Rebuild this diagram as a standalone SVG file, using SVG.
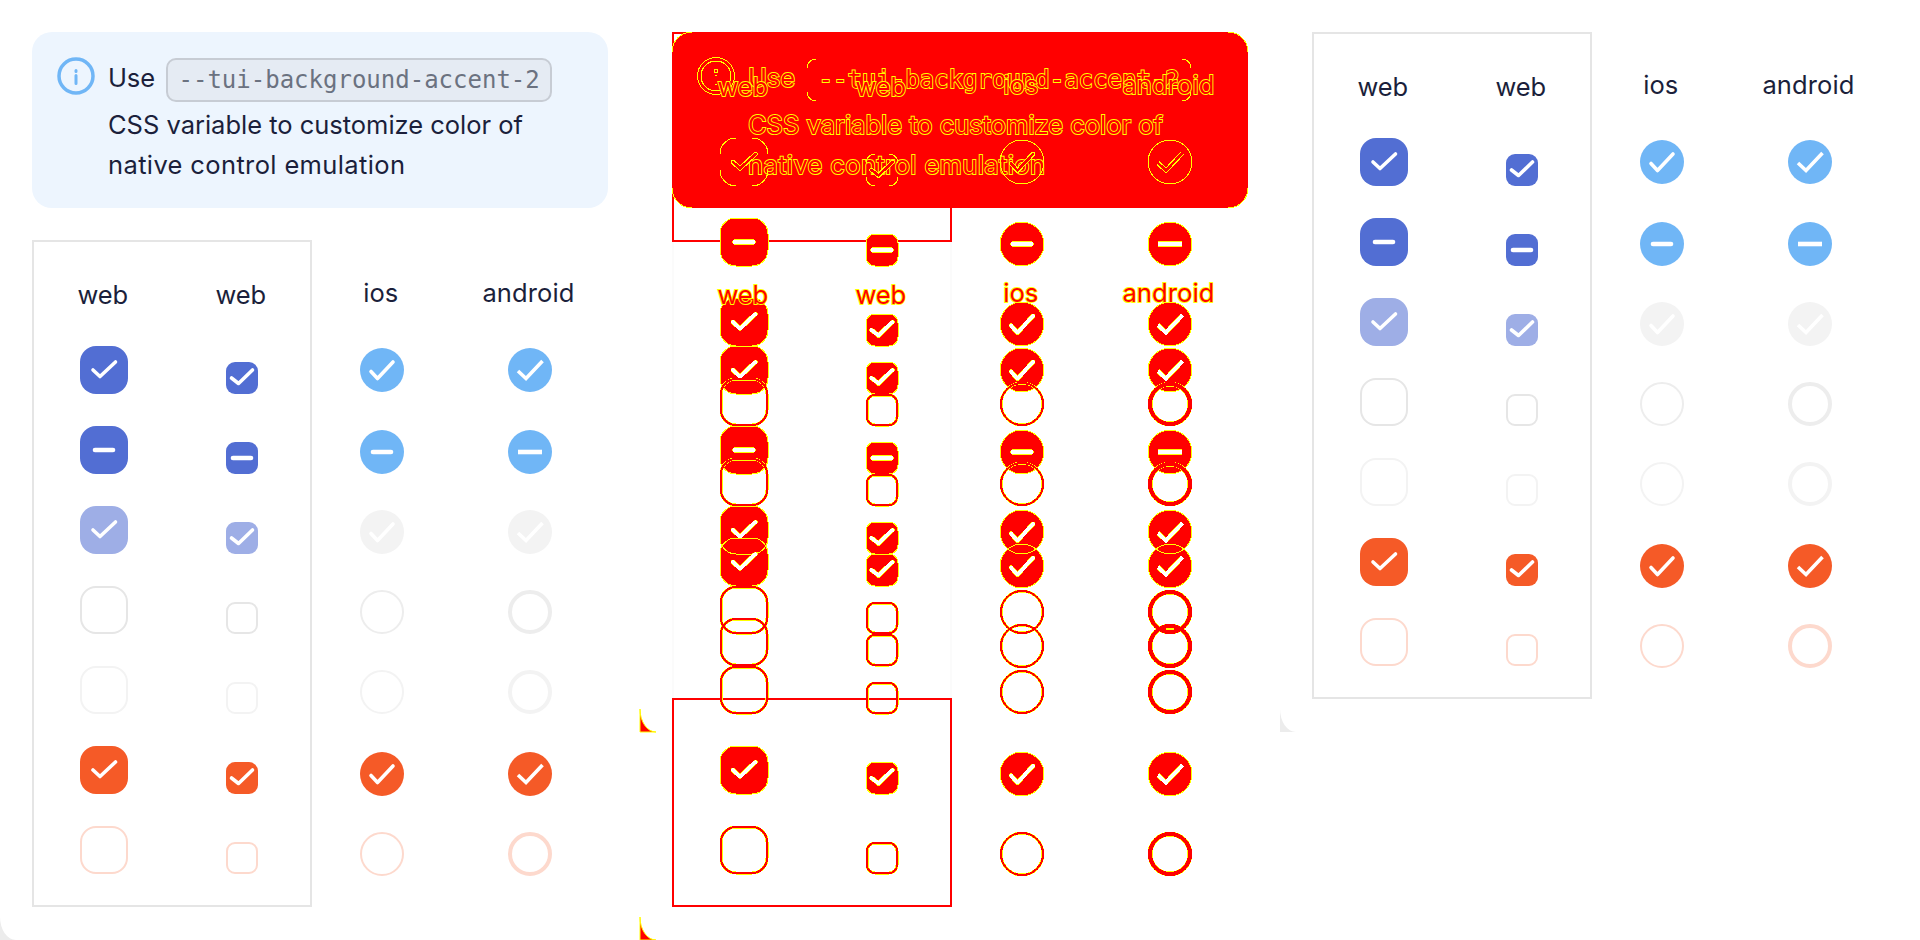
<svg xmlns="http://www.w3.org/2000/svg" width="1920" height="940" viewBox="0 0 1920 940">
<style>
text{font-family:"Inter","Noto Sans","Liberation Sans",sans-serif;font-size:25.5px;fill:#1b1f3b}
.mono{font-family:"DejaVu Sans Mono","Liberation Mono",monospace;font-size:24px;fill:#6b7280}
.dt{fill:#f00;stroke:#ff0;stroke-width:1.8px;paint-order:stroke}
.pri,.pal,.blu,.gry,.org{stroke:var(--e,none);stroke-width:1px}
.pri{fill:var(--f,#526ed3)}.pal{fill:var(--f,#9eaee6)}.blu{fill:var(--f,#70b6f6)}.gry{fill:var(--f,#f3f3f3)}.org{fill:var(--f,#f55a27)}
.rg,.ri,.rl,.ro{fill:none}
.rg{stroke:var(--r,#e6e6e6)}.ri{stroke:var(--r,#ededed)}.rl{stroke:var(--r,#f3f3f3)}.ro{stroke:var(--r,#fdd9cd)}
.r2{stroke-width:calc(2px + var(--x,0px))}.r4{stroke-width:calc(4px + var(--x,0px))}
.ck{fill:none;stroke:var(--c,#fff);stroke-width:calc(3.6px + var(--x,0px));stroke-linecap:round;stroke-linejoin:round}
.ck.b{stroke-linecap:butt;stroke-linejoin:miter}
.dsh{stroke-width:calc(4.6px + var(--x,0px))}
.box{fill:none;stroke:#e5e5e5;stroke-width:2}
.p0{--f:#f00;--e:none;--r:none;--c:none}
.p1{--f:none;--e:#ff0;--r:#ff0;--c:#ff0;--x:1px}
.p2{--f:none;--e:none;--r:#f00;--c:#fff;--x:0px}
.yl{fill:none;stroke:#ff0;stroke-width:1}
</style>
<defs>
<rect id="L" width="48" height="48" rx="16"/>
<rect id="S" width="32" height="32" rx="9"/>
<circle id="C" r="22"/>
<rect id="Lr" x="1" y="1" width="46" height="46" rx="15"/>
<rect id="Sr" x="1" y="1" width="30" height="30" rx="8"/>
<circle id="Cr" r="21"/>
<circle id="Ar" r="20"/>
<path id="cL" d="M-11 0L-4 6.5L11.5-8"/>
<path id="cS" d="M-10.5 0L-3.5 5.5L10.5-8"/>
<path id="cI" d="M-11 1.5L-4.5 8.5L11-8"/>
<path id="cA" d="M-12 1L-4 8.5L12.5-9"/>
<path id="dL" d="M-9 0H9"/>
<path id="dA" d="M-12 0H12"/>
<g id="row1">
<use href="#L" x="80" y="346" class="pri"/><use href="#cL" x="104" y="370" class="ck"/>
<use href="#S" x="226" y="362" class="pri"/><use href="#cS" x="242" y="378" class="ck"/>
<use href="#C" x="382" y="370" class="blu"/><use href="#cI" x="382" y="370" class="ck"/>
<use href="#C" x="530" y="370" class="blu"/><use href="#cA" x="530" y="370" class="ck b"/>
</g>
<g id="rows">
<use href="#L" x="80" y="426" class="pri"/><use href="#dL" x="104" y="450" class="ck dsh"/>
<use href="#S" x="226" y="442" class="pri"/><use href="#dL" x="242" y="458" class="ck dsh"/>
<use href="#C" x="382" y="452" class="blu"/><use href="#dL" x="382" y="452" class="ck dsh"/>
<use href="#C" x="530" y="452" class="blu"/><use href="#dA" x="530" y="452" class="ck b dsh"/>
<use href="#L" x="80" y="506" class="pal"/><use href="#cL" x="104" y="530" class="ck"/>
<use href="#S" x="226" y="522" class="pal"/><use href="#cS" x="242" y="538" class="ck"/>
<use href="#C" x="382" y="532" class="gry"/><use href="#cI" x="382" y="532" class="ck"/>
<use href="#C" x="530" y="532" class="gry"/><use href="#cA" x="530" y="532" class="ck b"/>
<use href="#Lr" x="80" y="586" class="rg r2"/>
<use href="#Sr" x="226" y="602" class="rg r2"/>
<use href="#Cr" x="382" y="612" class="ri r2"/>
<use href="#Ar" x="530" y="612" class="ri r4"/>
<use href="#Lr" x="80" y="666" class="rl r2"/>
<use href="#Sr" x="226" y="682" class="rl r2"/>
<use href="#Cr" x="382" y="692" class="rl r2"/>
<use href="#Ar" x="530" y="692" class="rl r4"/>
<use href="#L" x="80" y="746" class="org"/><use href="#cL" x="104" y="770" class="ck"/>
<use href="#S" x="226" y="762" class="org"/><use href="#cS" x="242" y="778" class="ck"/>
<use href="#C" x="382" y="774" class="org"/><use href="#cI" x="382" y="774" class="ck"/>
<use href="#C" x="530" y="774" class="org"/><use href="#cA" x="530" y="774" class="ck b"/>
<use href="#Lr" x="80" y="826" class="ro r2"/>
<use href="#Sr" x="226" y="842" class="ro r2"/>
<use href="#Cr" x="382" y="854" class="ro r2"/>
<use href="#Ar" x="530" y="854" class="ro r4"/>
</g>
</defs>
<rect width="1920" height="940" fill="#fff"/>

<g id="corner-wedges">
<path d="M0 917V940H16A16 23 0 0 1 0 917Z" fill="#ececec"/>
<path d="M1280 709V732H1296A16 23 0 0 1 1280 709Z" fill="#ececec"/>
<path d="M640 709V732H656A16 23 0 0 1 640 709Z" fill="#f00" stroke="#ff0" stroke-width="1"/>
<path d="M640 917V940H656A16 23 0 0 1 640 917Z" fill="#f00" stroke="#ff0" stroke-width="1"/>
</g>

<g id="left-panel">
<g id="left-notice">
<rect x="32" y="32" width="576" height="176" rx="20" fill="#edf5fe"/>
<circle cx="76" cy="76" r="17" fill="none" stroke="#70b6f6" stroke-width="3.5"/>
<path d="M76 70.5v1M76 75.5v8" fill="none" stroke="#70b6f6" stroke-width="3" stroke-linecap="round"/>
<text x="108" y="87" textLength="47">Use</text>
<rect x="167" y="59" width="384" height="42" rx="9" fill="#e5ebf3" stroke="#c7ccd4" stroke-width="2"/>
<text class="mono" x="178.5" y="88">--tui-background-accent-2</text>
<text x="108" y="134" textLength="415">CSS variable to customize color of</text>
<text x="108" y="174" textLength="297">native control emulation</text>
</g>
<g id="left-table">
<rect class="box" x="33" y="241" width="278" height="665"/>
<text x="77.5" y="304" textLength="50.6">web</text>
<text x="215.5" y="304" textLength="50.6">web</text>
<text x="363.3" y="302" textLength="35">ios</text>
<text x="482.4" y="302" textLength="92">android</text>
<use href="#row1"/><use href="#rows"/>
</g>
</g>

<g id="right-table" transform="translate(1280 -208)">
<rect class="box" x="33" y="241" width="278" height="665"/>
<text x="77.5" y="304" textLength="50.6">web</text>
<text x="215.5" y="304" textLength="50.6">web</text>
<text x="363.3" y="302" textLength="35">ios</text>
<text x="482.4" y="302" textLength="92">android</text>
<use href="#row1"/><use href="#rows"/>
</g>

<g id="diff-panel" transform="translate(640 0)" shape-rendering="crispEdges">
<g id="diff-table-lines">
<path d="M33 241V698M311 241V698" fill="none" stroke="#fbfbfb" stroke-width="2"/>
<rect x="33" y="33" width="278" height="208" fill="none" stroke="#f00" stroke-width="2"/>
<rect x="33" y="699" width="278" height="207" fill="none" stroke="#f00" stroke-width="2"/>
</g>
<g id="diff-cells">
<use href="#rows" class="p0"/><use href="#row1" class="p0"/>
<use href="#rows" transform="translate(0 -208)" class="p0"/>
<use href="#rows" class="p1"/><use href="#row1" class="p1"/>
<use href="#rows" transform="translate(0 -208)" class="p1"/>
<use href="#rows" class="p2"/><use href="#row1" class="p2"/>
<use href="#rows" transform="translate(0 -208)" class="p2"/>
</g>
<g id="diff-notice">
<rect x="32" y="32" width="576" height="176" rx="20" fill="#f00"/>
<path class="yl" d="M32 52A20 20 0 0 1 52 32M588 32A20 20 0 0 1 608 52M608 188A20 20 0 0 1 588 208M52 208A20 20 0 0 1 32 188"/>
<circle class="yl" cx="76" cy="76" r="18.5"/>
<circle class="yl" cx="76" cy="76" r="15"/>
<path class="yl" d="M74.5 69.5h3v3h-3zM75 75.5h2M75 84h2"/>
<text class="dt" x="108" y="87" textLength="47">Use</text>
<path class="yl" d="M167 68A9 9 0 0 1 176 59M167 92A9 9 0 0 0 176 101M542 59A9 9 0 0 1 551 68M551 92A9 9 0 0 1 542 101"/>
<text class="mono dt" x="178.5" y="88">--tui-background-accent-2</text>
<text class="dt" x="108" y="134" textLength="415">CSS variable to customize color of</text>
<text class="dt" x="108" y="174" textLength="297">native control emulation</text>
</g>
<g id="diff-row-one" transform="translate(0 -208)">
<path class="yl" d="M80 362A16 16 0 0 1 96 346M112 346A16 16 0 0 1 128 362M128 378A16 16 0 0 1 112 394M96 394A16 16 0 0 1 80 378"/>
<path class="yl" d="M226 371A9 9 0 0 1 235 362M249 362A9 9 0 0 1 258 371M258 385A9 9 0 0 1 249 394M235 394A9 9 0 0 1 226 385"/>
<circle class="yl" cx="382" cy="370" r="22"/>
<circle class="yl" cx="530" cy="370" r="22"/>
<g style="--x:1px;--c:#ff0"><use href="#cL" x="104" y="370" class="ck"/><use href="#cS" x="242" y="378" class="ck"/><use href="#cI" x="382" y="370" class="ck"/><use href="#cA" x="530" y="370" class="ck b"/></g>
<g style="--x:-1px;--c:#f00"><use href="#cL" x="104" y="370" class="ck"/><use href="#cS" x="242" y="378" class="ck"/><use href="#cI" x="382" y="370" class="ck"/><use href="#cA" x="530" y="370" class="ck b"/></g>
</g>
<g id="diff-headers">
<text class="dt" x="77.5" y="96" textLength="50.6">web</text>
<text class="dt" x="215.5" y="96" textLength="50.6">web</text>
<text class="dt" x="363.3" y="94" textLength="35">ios</text>
<text class="dt" x="482.4" y="94" textLength="92">android</text>
<text class="dt" x="77.5" y="304" textLength="50.6">web</text>
<text class="dt" x="215.5" y="304" textLength="50.6">web</text>
<text class="dt" x="363.3" y="302" textLength="35">ios</text>
<text class="dt" x="482.4" y="302" textLength="92">android</text>
</g>
</g>
</svg>
